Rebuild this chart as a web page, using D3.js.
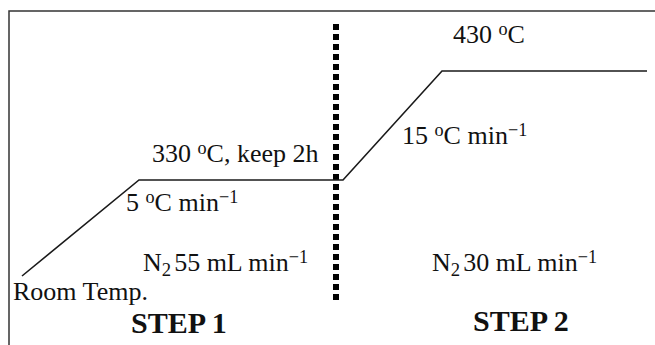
<!DOCTYPE html>
<html><head><meta charset="utf-8">
<script src="https://cdn.jsdelivr.net/npm/d3@7/dist/d3.min.js"></script>
<style>
html,body{margin:0;padding:0;background:#fff;}
svg{display:block;}
text{font-family:"Liberation Serif","Times New Roman",serif;fill:#111;}
</style></head>
<body>
<script>
// Schematic heating programme
const timeMin = [0, 61, 181, 187.7, 240];      // minutes (schematic)
const tempC   = [25, 330, 330, 430, 430];      // temperature, °C
const stepBoundaryTime = 181;

const W = 655, H = 345;
const svg = d3.select("body").append("svg").attr("width", W).attr("height", H);

// schematic (piecewise) scales
const x = d3.scaleLinear().domain(timeMin).range([22, 139, 343, 442, 647]);
const y = d3.scaleLinear().domain([25, 330, 430]).range([276, 180, 71]);

// frame (top & left only)
svg.append("path").attr("d", `M9,${H} L9,11 L${W},11`)
  .attr("fill", "none").attr("stroke", "#333").attr("stroke-width", 1.5);

// dotted boundary
svg.append("line")
  .attr("x1", x(stepBoundaryTime) - 7).attr("x2", x(stepBoundaryTime) - 7)
  .attr("y1", 24).attr("y2", 300)
  .attr("stroke", "#000").attr("stroke-width", 6).attr("stroke-dasharray", "6,4");

// temperature program line
const pts = timeMin.map((t, i) => [t, tempC[i]]);
svg.append("path").datum(pts)
  .attr("d", d3.line().x(d => x(d[0])).y(d => y(d[1])))
  .attr("fill", "none").attr("stroke", "#1a1a1a").attr("stroke-width", 1.6);

const fs = 26;
function label(xp, yp, parts, opts = {}) {
  const size = opts.size || fs;
  const t = svg.append("text").attr("x", xp).attr("y", yp)
    .attr("font-size", size).attr("font-weight", opts.bold ? "bold" : "normal");
  parts.forEach(p => {
    const s = t.append("tspan").text(p.t);
    if (p.sup) s.attr("font-size", size * 0.7).attr("baseline-shift", "42%");
    if (p.sub) s.attr("font-size", size * 0.72).attr("baseline-shift", "-25%");
    if (p.dx) s.attr("dx", p.dx);
  });
  return t;
}

label(152, 162, [{t: "330 "}, {t: "o", sup: true}, {t: "C, keep 2h"}]);
label(126, 211, [{t: "5 "}, {t: "o", sup: true}, {t: "C min"}, {t: "\u22121", sup: true}]);
label(143, 271, [{t: "N"}, {t: "2", sub: true}, {t: "55 mL min", dx: 3}, {t: "\u22121", sup: true}]);
label(13, 300, [{t: "Room Temp."}]);
label(131, 333, [{t: "STEP 1"}], {bold: true, size: 30});

label(453, 43, [{t: "430 "}, {t: "o", sup: true}, {t: "C"}]);
label(402, 144, [{t: "15 "}, {t: "o", sup: true}, {t: "C min"}, {t: "\u22121", sup: true}]);
label(432, 271, [{t: "N"}, {t: "2", sub: true}, {t: "30 mL min", dx: 3}, {t: "\u22121", sup: true}]);
label(473, 331, [{t: "STEP 2"}], {bold: true, size: 30});
</script>
</body></html>
